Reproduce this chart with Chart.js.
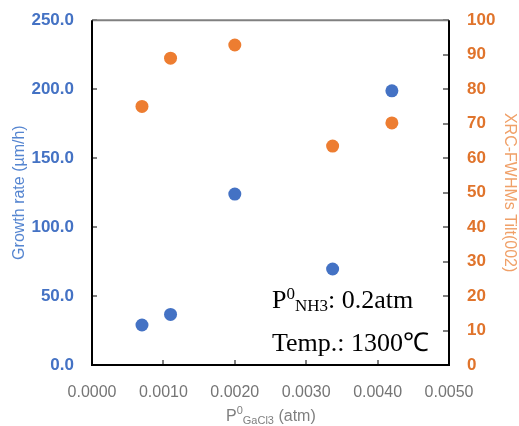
<!DOCTYPE html>
<html>
<head>
<meta charset="utf-8">
<script src="https://cdn.jsdelivr.net/npm/chart.js@4/dist/chart.umd.min.js"></script>
<style>
  html, body { margin: 0; padding: 0; background: #ffffff; }
  #wrap { width: 519px; height: 426px; position: relative; }
</style>
</head>
<body>
<div id="wrap"><canvas id="c" width="519" height="426"></canvas></div>
<script>
// ---- Data ----
const pressureGaCl3 = [0.0007, 0.0011, 0.0020, 0.00337, 0.0042];   // P0 GaCl3 (atm)
const growthRate    = [29.0, 36.7, 123.9, 69.6, 198.8];            // µm/h (left axis)
const tiltFWHM      = [75.0, 89.0, 92.8, 63.5, 70.2];              // XRC-FWHMs Tilt(002) (right axis)
const xTicks  = [0, 0.001, 0.002, 0.003, 0.004, 0.005];
const yTicks  = [0, 50, 100, 150, 200, 250];
const y1Ticks = [0, 10, 20, 30, 40, 50, 60, 70, 80, 90, 100];

const BLUE = '#4472C4';
const ORANGE = '#ED7D31';
const SANS = "'Liberation Sans', Arial, sans-serif";
const SERIF = "'Liberation Serif', 'Times New Roman', serif";

function pts(xs, ys) { return xs.map((x, i) => ({ x: x, y: ys[i] })); }

function drawRich(ctx, x, y, parts) {
  let cx = x;
  parts.forEach(p => {
    ctx.font = p.font;
    ctx.fillText(p.t, cx, y + (p.dy || 0));
    cx += ctx.measureText(p.t).width;
  });
}

const framePlugin = {
  id: 'frame',
  afterDatasetsDraw(chart) {
    const ctx = chart.ctx;
    const a = chart.chartArea;
    const sx = chart.scales.x, sy = chart.scales.y, sy1 = chart.scales.y1;
    ctx.save();
    // inward tick marks
    ctx.strokeStyle = '#7f7f7f';
    ctx.lineWidth = 2;
    ctx.beginPath();
    xTicks.forEach(v => { const px = Math.round(sx.getPixelForValue(v)); ctx.moveTo(px, a.bottom); ctx.lineTo(px, a.bottom - 5); });
    yTicks.forEach(v => { const py = Math.round(sy.getPixelForValue(v)); ctx.moveTo(a.left, py); ctx.lineTo(a.left + 5, py); });
    y1Ticks.forEach(v => { const py = Math.round(sy1.getPixelForValue(v)); ctx.moveTo(a.right, py); ctx.lineTo(a.right - 6, py); });
    ctx.stroke();
    // frame
    ctx.lineWidth = 2;
    ctx.strokeStyle = '#808080';
    ctx.beginPath(); ctx.moveTo(a.left, a.top); ctx.lineTo(a.right, a.top); ctx.stroke();
    ctx.strokeStyle = '#000000';
    ctx.beginPath();
    ctx.moveTo(a.left, a.top); ctx.lineTo(a.left, a.bottom); ctx.lineTo(a.right, a.bottom); ctx.lineTo(a.right, a.top);
    ctx.stroke();

    // x axis title with super/subscripts
    ctx.fillStyle = '#7f7f7f';
    ctx.textBaseline = 'alphabetic';
    ctx.textAlign = 'left';
    drawRich(ctx, a.left + 134, 421, [
      { t: 'P', font: '16px ' + SANS },
      { t: '0', font: '11px ' + SANS, dy: -7 },
      { t: 'GaCl3', font: '11px ' + SANS, dy: 3 },
      { t: ' (atm)', font: '16px ' + SANS }
    ]);

    // annotation
    ctx.fillStyle = '#000000';
    drawRich(ctx, a.left + 180, 308, [
      { t: 'P', font: '26px ' + SERIF },
      { t: '0', font: '17px ' + SERIF, dy: -9 },
      { t: 'NH3', font: '17px ' + SERIF, dy: 3 },
      { t: ': 0.2atm', font: '26px ' + SERIF }
    ]);
    drawRich(ctx, a.left + 180, 351, [
      { t: 'Temp.: 1300\u2103', font: '26px ' + SERIF }
    ]);
    ctx.restore();
  }
};

new Chart(document.getElementById('c'), {
  type: 'scatter',
  data: {
    datasets: [
      { label: 'Growth rate', data: pts(pressureGaCl3, growthRate), yAxisID: 'y',
        backgroundColor: BLUE, borderColor: BLUE, pointRadius: 6.5, pointBorderWidth: 0, pointHoverRadius: 6.5 },
      { label: 'Tilt FWHM', data: pts(pressureGaCl3, tiltFWHM), yAxisID: 'y1',
        backgroundColor: ORANGE, borderColor: ORANGE, pointRadius: 6.5, pointBorderWidth: 0, pointHoverRadius: 6.5 }
    ]
  },
  options: {
    responsive: false,
    animation: false,
    events: [],
    layout: { padding: { top: 15, left: 0, right: 0, bottom: 0 } },
    plugins: { legend: { display: false }, tooltip: { enabled: false } },
    scales: {
      x: {
        type: 'linear', min: 0, max: 0.005,
        afterBuildTicks: s => { s.ticks = xTicks.map(v => ({ value: v })); },
        afterFit: s => { s.height = 61; },
        grid: { display: false }, border: { display: false },
        ticks: { padding: 10, color: '#757575', font: { family: SANS, size: 16 }, maxRotation: 0,
                 callback: v => Number(v).toFixed(4) }
      },
      y: {
        position: 'left', min: 0, max: 250,
        afterBuildTicks: s => { s.ticks = yTicks.map(v => ({ value: v })); },
        afterFit: s => { s.width = 92; },
        grid: { display: false }, border: { display: false },
        ticks: { padding: 10, color: BLUE, font: { family: SANS, size: 17, weight: 'bold' },
                 callback: v => Number(v).toFixed(1) },
        title: { display: true, text: 'Growth rate (\u00b5m/h)', color: '#5585D0',
                 font: { family: SANS, size: 16 }, padding: { top: 10, bottom: 0 } }
      },
      y1: {
        position: 'right', min: 0, max: 100,
        afterBuildTicks: s => { s.ticks = y1Ticks.map(v => ({ value: v })); },
        afterFit: s => { s.width = 70; },
        grid: { display: false }, border: { display: false },
        ticks: { padding: 10, color: '#E0742C', font: { family: SANS, size: 17, weight: 'bold' },
                 callback: v => String(v) },
        title: { display: true, text: 'XRC-FWHMs Tilt(002)', color: '#F0A068',
                 font: { family: SANS, size: 16 }, padding: { top: 0, bottom: 0 } }
      }
    }
  },
  plugins: [framePlugin]
});
</script>
</body>
</html>
